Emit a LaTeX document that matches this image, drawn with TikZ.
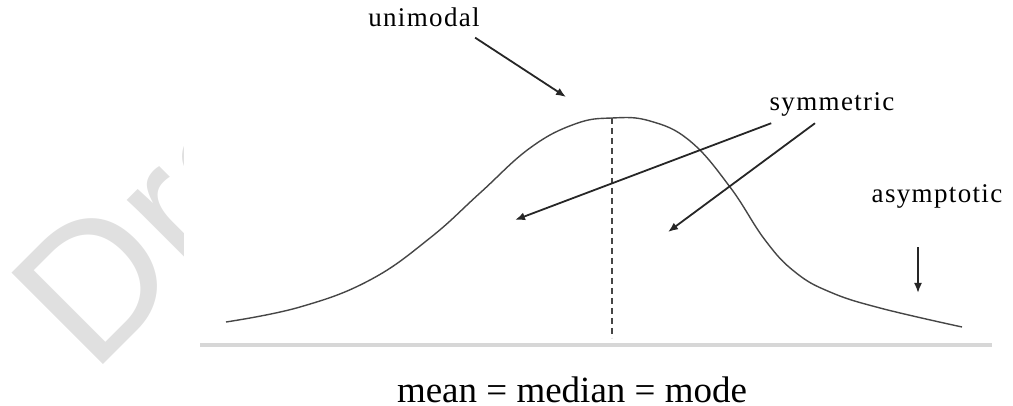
\documentclass[tikz,border=0pt]{standalone}
\usepackage{fontspec}
\setmainfont{Liberation Serif}
\newfontfamily\wmfont{Liberation Sans}
\newfontfamily\lblfont[LetterSpace=5]{Liberation Serif}
\definecolor{WaterGrey}{RGB}{224, 224, 224}
\definecolor{CurveGrey}{RGB}{70, 70, 70}
\definecolor{AxisGrey}{RGB}{215, 215, 215}
\usetikzlibrary{arrows.meta, calc}

\begin{document}
\begin{tikzpicture}[
    x=0.5pt, y=-0.5pt,
    every node/.style={inner sep=2pt},
    lbl/.style={font=\lblfont\fontsize{13.5}{15}\selectfont, anchor=base},
    pointer/.style={-{Latex[length=5pt, width=4pt]}, line width=0.9pt, black!85},
    bell/.style={CurveGrey, line width=0.7pt},
    axisline/.style={AxisGrey, line width=2pt},
    dashline/.style={CurveGrey, line width=0.6pt, dash pattern=on 3pt off 2pt}
]
\useasboundingbox (0,0) rectangle (1013,406);
\begin{scope}
\clip (0,0) rectangle (183,406);
\node[font=\wmfont\fontsize{94}{94}\selectfont, text=WaterGrey, rotate=45, anchor=base west, inner sep=0pt] (wm) at (92,376) {Draft};
\end{scope}
\coordinate (axL) at (200,345);
\coordinate (axR) at (992,345);
\coordinate (top) at (612,118);
\coordinate (foot) at (612,338);
\draw[axisline] (axL) -- (axR);
\draw[bell] plot[smooth, tension=0.7] coordinates {(226,322) (300,307) (370,280) (430,238) (480,193) (530,148) (575,124) (612,118) (650,121) (690,141) (730,187) (765,240) (795,272) (830,292) (880,308) (962,327)};
\draw[dashline] (top) -- (foot);
\node[lbl] (unimodal) at (424,27) {unimodal};
\node[lbl] (symm) at (832,111) {symmetric};
\node[lbl] (asym) at (937,203) {asymptotic};
\node[font=\fontsize{18.5}{21}\selectfont, anchor=base] (mmm) at (572,403) {mean = median = mode};
\coordinate (uTip) at (566,97);
\coordinate (leftHalf) at (515,220);
\coordinate (rightHalf) at (668,232);
\coordinate (tail) at (918,293);
\draw[pointer] ($(unimodal.south east)+(-9,6)$) -- (uTip);
\draw[pointer] ($(symm.south west)+(6,2)$) -- (leftHalf);
\draw[pointer] ($(symm.south)+(-17,2)$) -- (rightHalf);
\draw[pointer] ($(asym.south)+(-19,34)$) -- (tail);
\end{tikzpicture}
\end{document}
